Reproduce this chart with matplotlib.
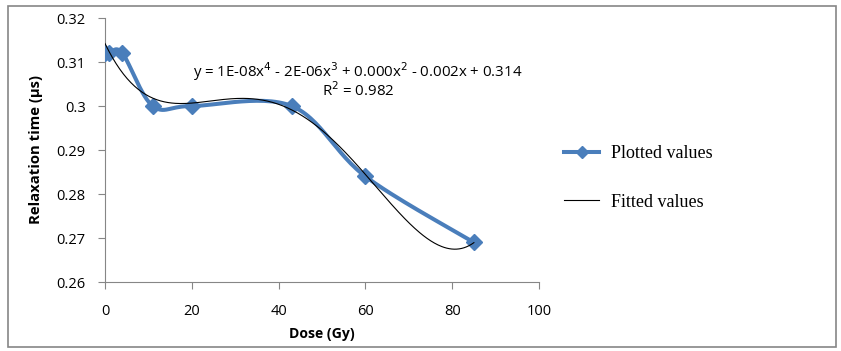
import numpy as np
import matplotlib
matplotlib.use("Agg")
import matplotlib.pyplot as plt
from matplotlib.lines import Line2D
from matplotlib.patches import Rectangle

# Data
dose = [0, 1, 4, 11, 20, 43, 60, 85]
relax = [0.312, 0.312, 0.312, 0.300, 0.300, 0.300, 0.284, 0.269]

x_ticks = [0, 20, 40, 60, 80, 100]
y_ticks = [0.26, 0.27, 0.28, 0.29, 0.30, 0.31, 0.32]
y_labels = ["0.26", "0.27", "0.28", "0.29", "0.3", "0.31", "0.32"]


def smooth_curve(xs, ys, n=30):
    # Excel style smoothed line (Catmull-Rom via cubic Bezier)
    xs = np.asarray(xs, float)
    ys = np.asarray(ys, float)
    px, py = [], []
    for i in range(len(xs) - 1):
        i0 = max(i - 1, 0)
        i3 = min(i + 2, len(xs) - 1)
        p0 = np.array([xs[i], ys[i]])
        p3 = np.array([xs[i + 1], ys[i + 1]])
        c1 = p0 + (p3 - np.array([xs[i0], ys[i0]])) / 6
        c2 = p3 - (np.array([xs[i3], ys[i3]]) - p0) / 6
        t = np.linspace(0, 1, n)[:, None]
        pts = ((1 - t) ** 3) * p0 + 3 * ((1 - t) ** 2) * t * c1 + 3 * (1 - t) * t ** 2 * c2 + t ** 3 * p3
        px.extend(pts[:, 0])
        py.extend(pts[:, 1])
    return np.array(px), np.array(py)


plt.rcParams['font.family'] = ['Open Sans', 'DejaVu Sans']

fig = plt.figure(figsize=(8.41, 3.51), dpi=100)
ax = fig.add_axes([105 / 841, 1 - 282 / 351, (539 - 105) / 841, (282 - 18) / 351])

blue = "#4a7ebb"
sx, sy = smooth_curve(dose, relax)
ax.plot(sx, sy, color=blue, lw=2.9, zorder=3)
ax.plot(dose, relax, linestyle='none', marker='D', ms=8.5, color=blue, zorder=4)

# 4th order polynomial trendline
coef = np.polyfit(dose, relax, 4)
fx = np.linspace(min(dose), max(dose), 300)
ax.plot(fx, np.polyval(coef, fx), color='black', lw=0.8, zorder=5)

ax.set_xlim(0, 100)
ax.set_ylim(0.26, 0.32)
ax.set_xticks(x_ticks)
ax.set_yticks(y_ticks)
ax.set_yticklabels(y_labels)
ax.tick_params(colors='#868686', labelcolor='black', labelsize=10.5, length=5, direction='out')
ax.tick_params(axis='x', pad=11)
ax.tick_params(axis='y', pad=9)
for s in ['top', 'right']:
    ax.spines[s].set_visible(False)
for s in ['left', 'bottom']:
    ax.spines[s].set_color('#868686')

ax.set_xlabel("Dose (Gy)", fontweight='bold', fontsize=10.1, va='center')
ax.set_ylabel("Relaxation time (µs)", fontweight='bold', fontsize=10.7, va='center')
ax.xaxis.set_label_coords(0.499, (282 - 334) / 264)
ax.yaxis.set_label_coords((36 - 105) / 434, 0.5)

ax.text(0.583, 0.795, "y = 1E-08x$^4$ - 2E-06x$^3$ + 0.000x$^2$ - 0.002x + 0.314",
        transform=ax.transAxes, ha='center', va='center', fontsize=10.8)
ax.text(0.583, 0.723, "R$^2$ = 0.982", transform=ax.transAxes, ha='center', va='center', fontsize=10.8)

handles = [Line2D([], [], color=blue, lw=2.9, marker='D', ms=6),
           Line2D([], [], color='black', lw=0.8)]
fig.legend(handles, ["Plotted values", "Fitted values"], loc='center left',
           bbox_to_anchor=(548 / 841, 1 - 178 / 351), frameon=False,
           prop={'family': 'Liberation Serif', 'size': 13}, handlelength=1.95,
           labelspacing=1.75, handletextpad=0.65)

fig.patches.append(Rectangle((8 / 841, 4 / 351), 828 / 841, 341 / 351, transform=fig.transFigure,
                             fill=False, edgecolor='#868686', lw=1.2))

fig.savefig("out.png", dpi=100)
